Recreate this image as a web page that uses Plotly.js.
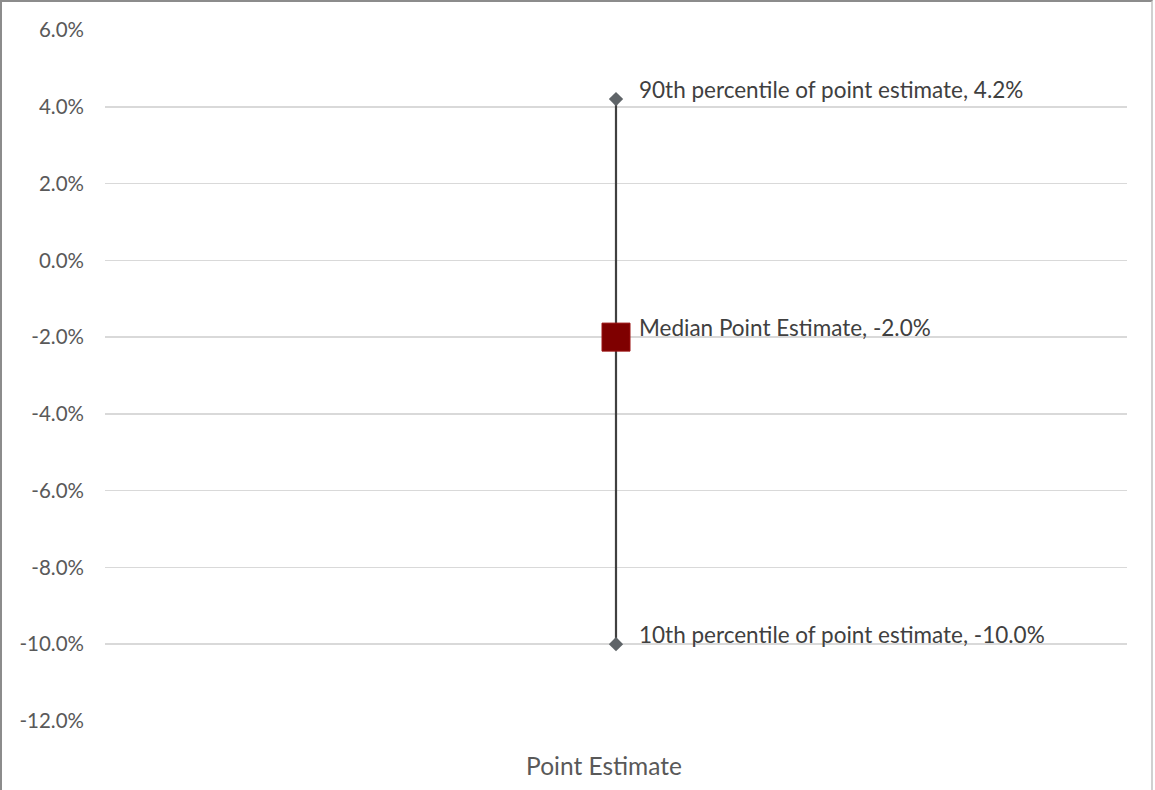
<!DOCTYPE html>
<html>
<head>
<meta charset="utf-8">
<script src="https://cdn.plot.ly/plotly-3.0.1.min.js"></script>
<style>
html,body{margin:0;padding:0;background:#fff;}
#wrap{position:relative;width:1155px;height:790px;}
#chart{width:1155px;height:790px;}
#frame{position:absolute;left:0;top:0;width:1153px;height:790px;border-left:2px solid #8c8c8c;border-top:2px solid #8c8c8c;border-right:2px solid #d0d0d0;box-sizing:border-box;pointer-events:none;}
</style>
</head>
<body>
<div id="wrap"><div id="chart"></div><div id="frame"></div></div>
<script>
const categories = ["Point Estimate"];
const p90 = [4.2];
const median = [-2.0];
const p10 = [-10.0];
const labels90 = ["90th percentile of point estimate, 4.2%"];
const labelsMed = ["Median Point Estimate, -2.0%"];
const labels10 = ["10th percentile of point estimate, -10.0%"];
const yTicks = [-12, -10, -8, -6, -4, -2, 0, 2, 4, 6];

const FONT = "Lato, Open Sans, sans-serif";
const GREY = "#595959";

const traces = [
  {
    x: [categories[0], categories[0]],
    y: [p10[0], p90[0]],
    type: "scatter",
    mode: "lines+markers",
    line: {color: "#404040", width: 2.2},
    marker: {symbol: "diamond", size: 11, color: "#5f6468"},
    hoverinfo: "skip",
    cliponaxis: false
  },
  {
    x: categories,
    y: median,
    type: "scatter",
    mode: "markers",
    marker: {symbol: "square", size: 28, color: "#7f0000", line: {color: "#9a1010", width: 1}},
    hoverinfo: "skip",
    cliponaxis: false
  }
];

const annotations = [];
[[p90, labels90], [median, labelsMed], [p10, labels10]].forEach(([vals, labs]) => {
  vals.forEach((v, i) => {
    annotations.push({
      x: categories[i], y: v, xref: "x", yref: "y",
      text: labs[i], showarrow: false,
      xanchor: "left", yanchor: "middle",
      xshift: 21, yshift: 10,
      font: {family: FONT, size: 22.5, color: "#404040"}
    });
  });
});

const layout = {
  width: 1155, height: 790,
  margin: {l: 105, r: 28, t: 30, b: 69},
  paper_bgcolor: "#fff", plot_bgcolor: "#fff",
  showlegend: false,
  xaxis: {
    type: "category",
    range: [-0.5, 0.5],
    showgrid: false, zeroline: false, showline: false,
    ticks: "", tickfont: {family: FONT, size: 24.5, color: GREY},
    ticklabelstandoff: 28,
    ticklabelshift: -12
  },
  yaxis: {
    range: [-12, 6],
    tickvals: yTicks,
    ticktext: yTicks.map(v => v.toFixed(1) + "%"),
    showgrid: true, gridcolor: "#d9d9d9", gridwidth: 1.5,
    zeroline: false, showline: false, ticks: "",
    tickfont: {family: FONT, size: 20.5, color: GREY},
    ticklabelstandoff: 20
  },
  annotations: annotations,
  font: {family: FONT}
};

Plotly.newPlot("chart", traces, layout, {displayModeBar: false, staticPlot: true});
</script>
</body>
</html>
